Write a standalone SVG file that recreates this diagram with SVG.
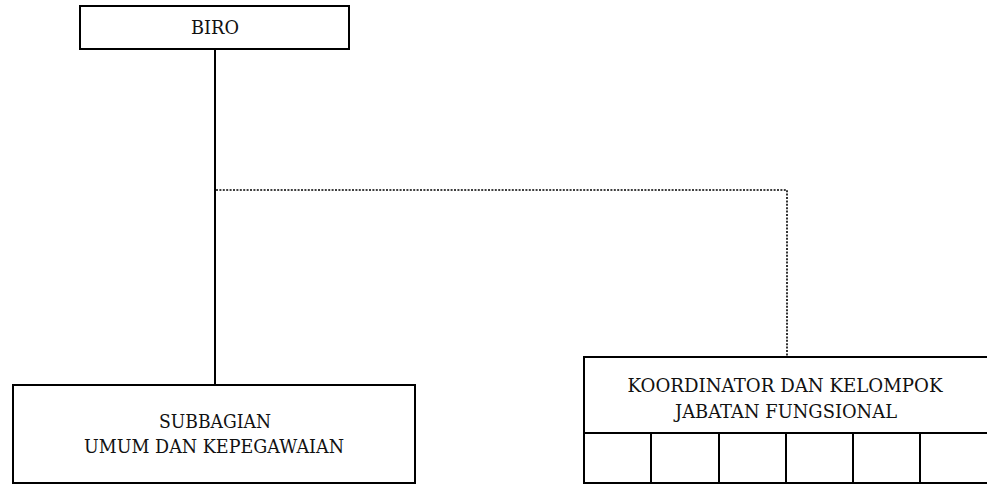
<svg xmlns="http://www.w3.org/2000/svg" width="987" height="490" viewBox="0 0 987 490">
  <style>
    .box { fill: #ffffff; stroke: #000000; stroke-width: 2; }
    .cell { fill: none; stroke: #000000; stroke-width: 2; }
    .lbl { font-family: "DejaVu Serif", "Liberation Serif", serif; font-size: 18px; fill: #111111; text-anchor: middle; }
    .solid { fill: none; stroke: #000000; stroke-width: 2; }
    .dotted { fill: none; stroke: #000000; stroke-width: 1.6; stroke-dasharray: 2 1.4; }
  </style>
  <rect width="987" height="490" fill="#ffffff"/>

  <g id="connectors">
    <line class="solid" x1="215" y1="49" x2="215" y2="385"/>
    <polyline class="dotted" points="216,190 787,190 787,357"/>
  </g>

  <g id="biro">
    <rect class="box" x="80" y="6" width="269" height="43"/>
    <text class="lbl" x="215" y="34" textLength="48" lengthAdjust="spacingAndGlyphs">BIRO</text>
  </g>

  <g id="subbagian">
    <rect class="box" x="13" y="385" width="402" height="98"/>
    <text class="lbl" x="215" y="428" textLength="112" lengthAdjust="spacingAndGlyphs">SUBBAGIAN</text>
    <text class="lbl" x="214" y="453" textLength="260" lengthAdjust="spacingAndGlyphs">UMUM DAN KEPEGAWAIAN</text>
  </g>

  <!-- box runs off the right edge of the page -->
  <g id="koordinator">
    <rect class="box" x="584" y="357" width="406" height="126"/>
    <line class="cell" x1="584" y1="433" x2="990" y2="433"/>
    <line class="cell" x1="651" y1="433" x2="651" y2="483"/>
    <line class="cell" x1="719" y1="433" x2="719" y2="483"/>
    <line class="cell" x1="786" y1="433" x2="786" y2="483"/>
    <line class="cell" x1="853" y1="433" x2="853" y2="483"/>
    <line class="cell" x1="920" y1="433" x2="920" y2="483"/>
    <text class="lbl" x="785" y="392" textLength="315" lengthAdjust="spacingAndGlyphs">KOORDINATOR DAN KELOMPOK</text>
    <text class="lbl" x="786" y="418" textLength="222" lengthAdjust="spacingAndGlyphs">JABATAN FUNGSIONAL</text>
  </g>
</svg>
